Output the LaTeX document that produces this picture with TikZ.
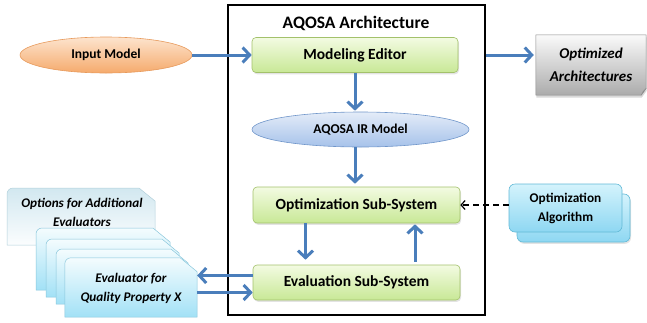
\documentclass[tikz,border=0pt]{standalone}
\usepackage{fontspec}
\setmainfont{Carlito}
\usetikzlibrary{arrows.meta,shadows,shapes.geometric,calc}

\definecolor{flowblue}{HTML}{4A7EBB}
\definecolor{greenedge}{HTML}{A3C16B}
\definecolor{greentop}{HTML}{F3FBE2}
\definecolor{greenbot}{HTML}{C8E896}
\definecolor{orangeedge}{HTML}{E79A5C}
\definecolor{orangetop}{HTML}{FDE4CE}
\definecolor{orangebot}{HTML}{F5AA6C}
\definecolor{blueedge}{HTML}{7096CA}
\definecolor{bluetop}{HTML}{E4ECF8}
\definecolor{bluebot}{HTML}{A6C2EA}
\definecolor{cyanedge}{HTML}{62B9D6}
\definecolor{cyantop}{HTML}{D4F3FC}
\definecolor{cyanbot}{HTML}{8ED7F2}
\definecolor{cardedge}{HTML}{88C6DB}
\definecolor{cardtop}{HTML}{F4FCFE}
\definecolor{cardbot}{HTML}{A2E1F6}
\definecolor{optedge}{HTML}{B2D0DB}
\definecolor{opttop}{HTML}{D2E8F0}
\definecolor{optbot}{HTML}{FBFDFE}
\definecolor{docedge}{HTML}{8A8A8A}
\definecolor{doctop}{HTML}{FAFAFA}
\definecolor{docbot}{HTML}{ABABAB}

\pgfdeclarelayer{bg}
\pgfsetlayers{bg,main}

\begin{document}
\begin{tikzpicture}[x=1pt,y=-1pt,
  softshadow/.style={drop shadow={opacity=0.22,shadow xshift=1pt,shadow yshift=-1.8pt}},
  greenbox/.style={draw=greenedge,line width=0.6pt,rounded corners=4pt,
    top color=greentop,bottom color=greenbot,minimum width=206pt,minimum height=35pt,
    font=\bfseries\fontsize{15.5}{18}\selectfont,softshadow},
  oval/.style={ellipse,line width=0.6pt,inner sep=0pt,
    font=\bfseries\fontsize{13.5}{16}\selectfont},
  cardshape/.style={draw=cardedge,line width=0.5pt,top color=cardtop,bottom color=cardbot},
  flow/.style={draw=flowblue,line width=3pt,-{Straight Barb[length=7pt,width=15pt]}},
  hint/.style={draw=black,line width=1.2pt,dash pattern=on 6pt off 4pt,
    -{Straight Barb[length=4pt,width=9pt]}},
  note/.style={font=\bfseries\itshape\fontsize{13.2}{18.5}\selectfont,align=center,inner sep=0pt}
]
\useasboundingbox (0,0) rectangle (647,322);

% AQOSA frame and title
\node[draw=black,line width=1.6pt,minimum width=257pt,minimum height=310pt,inner sep=0pt]
  (arch) at (356.5,160) {};
\node[font=\bfseries\fontsize{17.5}{20}\selectfont] (title) at (356,23) {AQOSA Architecture};

% inner subsystems
\node[greenbox] (me) at (355,55) {Modeling Editor};
\node[oval,draw=blueedge,top color=bluetop,bottom color=bluebot,
  minimum width=217pt,minimum height=35pt] (ir) at (360.5,129.5) {AQOSA IR Model};
\node[greenbox,minimum width=207pt,minimum height=36pt] (opt) at (356.5,205) {Optimization Sub-System};
\node[greenbox,minimum width=207pt] (eval) at (356.5,282.5) {Evaluation Sub-System};

% input model
\node[oval,draw=orangeedge,top color=orangetop,bottom color=orangebot,
  minimum width=172pt,minimum height=36pt] (in) at (106,55) {Input Model};

% optimized architectures (document with a lifted corner)
\node[note,font=\bfseries\itshape\fontsize{15}{23}\selectfont,minimum width=110pt,minimum height=60pt]
  (out) at (591,65) {Optimized\\Architectures};
\begin{pgfonlayer}{bg}
  \path[draw=docedge,line width=0.5pt,top color=doctop,bottom color=docbot,
    drop shadow={opacity=0.3,shadow xshift=0.5pt,shadow yshift=-2.5pt}]
    (out.north west) -- (out.north east) -- ([yshift=7pt]out.south east)
    -- ([xshift=-5pt]out.south east) -- (out.south west) -- cycle;
  \path[draw=docedge,line width=0.5pt,fill=white!85!gray]
    ([yshift=7pt]out.south east) -- ([xshift=-5pt]out.south east)
    -- ([xshift=-3pt,yshift=4pt]out.south east) -- cycle;
\end{pgfonlayer}

% optimization algorithm (two stacked cards)
\node[draw=cyanedge,line width=0.6pt,rounded corners=6pt,top color=cyantop,bottom color=cyanbot,
  minimum width=113pt,minimum height=48pt,softshadow] (algoback) at (573.5,218) {};
\node[draw=cyanedge,line width=0.6pt,rounded corners=6pt,top color=cyantop,bottom color=cyanbot,
  minimum width=113pt,minimum height=48pt,align=center,
  font=\bfseries\fontsize{13.3}{19}\selectfont] (algo) at (565.5,208) {Optimization\\Algorithm};

% evaluator options and the evaluator cards
\node[note] (opts) at (82,212.5) {Options for Additional\\Evaluators};
\node[note,minimum width=132pt,minimum height=59pt,text depth=0pt] (evalx) at (131,287.5)
  {Evaluator for\\Quality Property X};
\begin{pgfonlayer}{bg}
  \path[draw=optedge,line width=0.5pt,top color=opttop,bottom color=optbot]
    (7,245) [rounded corners=6pt]-- (7,188) [sharp corners]-- (139,188) -- (155,201) -- (155,245) -- cycle;
  \path[cardshape] (36,290) [rounded corners=6pt]-- (36,228) [sharp corners]-- (153,228) -- (170,242) -- (170,290) -- cycle;
  \path[cardshape] (46,297) [rounded corners=6pt]-- (46,239) [sharp corners]-- (162,239) -- (179,253) -- (179,297) -- cycle;
  \path[cardshape] (56,304) [rounded corners=6pt]-- (56,249) [sharp corners]-- (171,249) -- (188,263) -- (188,304) -- cycle;
  \path[cardshape] (evalx.south west) [rounded corners=6pt]-- (evalx.north west) [sharp corners]--
    ([xshift=-17pt]evalx.north east) -- ([yshift=-14pt]evalx.north east) -- (evalx.south east) -- cycle;
\end{pgfonlayer}

% data flow
\draw[flow] (in.east) -- (me.west);
\draw[flow] (arch.east |- me.east) -- ([xshift=-2pt]out.west |- me.east);
\draw[flow,shorten >=1pt] (me.south) -- (me.south |- ir.north);
\draw[flow,shorten >=3pt] (me.south |- ir.south) -- (me.south |- opt.north);
\draw[flow,shorten >=5pt] ([xshift=-51pt]opt.south) -- ([xshift=-51pt]eval.north);
\draw[flow,shorten <=3pt,shorten >=1pt] ([xshift=58.5pt]eval.north) -- ([xshift=58.5pt]opt.south);
\draw[flow] ([yshift=7pt]eval.west) -- ([yshift=7pt]eval.west -| evalx.east);
\draw[flow] ([yshift=-10pt]eval.west -| evalx.east) -- ([yshift=-10pt]eval.west);
\draw[hint] (algo.west |- opt.east) -- (opt.east);
\end{tikzpicture}
\end{document}
